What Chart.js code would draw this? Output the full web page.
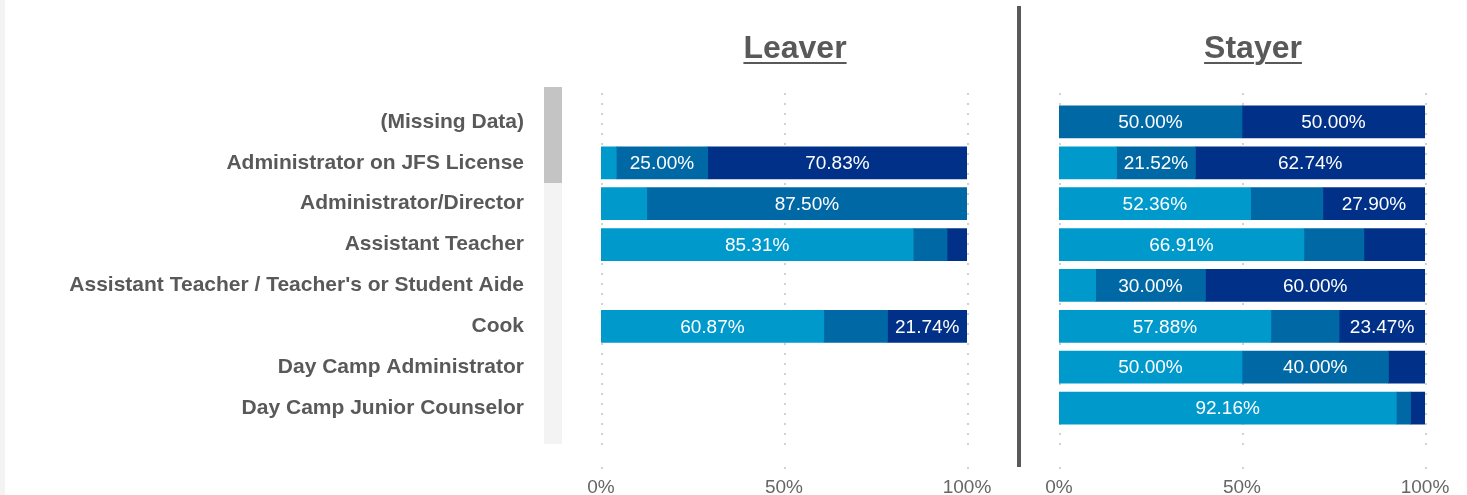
<!DOCTYPE html>
<html>
<head>
<meta charset="utf-8">
<script src="https://cdn.jsdelivr.net/npm/chart.js@4/dist/chart.umd.min.js"></script>
<style>
  html, body { margin: 0; padding: 0; background: #ffffff; }
  body { width: 1467px; height: 495px; position: relative; overflow: hidden; font-family: 'Liberation Sans', Arial, sans-serif; }
  .strip { position: absolute; left: 0; top: 0; width: 5px; height: 495px; background: #f3f3f3; }
  .track { position: absolute; left: 544px; top: 87px; width: 18px; height: 357px; background: #f3f3f3; }
  .thumb { position: absolute; left: 544px; top: 87px; width: 18px; height: 96px; background: #c4c4c4; }
  .divider { position: absolute; left: 1017px; top: 6px; width: 4px; height: 461px; background: #595959; }
  .title { position: absolute; top: 27px; font-weight: bold; font-size: 32px; color: #595959; text-decoration: underline; text-decoration-thickness: 2px; text-underline-offset: 4px; text-align: center; width: 300px; line-height: 40px; }
  #wrapL { position: absolute; left: 0; top: 0; width: 1000px; height: 495px; }
  #wrapR { position: absolute; left: 1030px; top: 0; width: 437px; height: 495px; }
</style>
</head>
<body>
<div class="strip"></div>
<div id="wrapL"><canvas id="cL"></canvas></div>
<div id="wrapR"><canvas id="cR"></canvas></div>
<div class="track"></div>
<div class="thumb"></div>
<div class="divider"></div>
<div class="title" style="left:645px;">Leaver</div>
<div class="title" style="left:1103px;">Stayer</div>
<script>
const categories = [
  "(Missing Data)",
  "Administrator on JFS License",
  "Administrator/Director",
  "Assistant Teacher",
  "Assistant Teacher / Teacher's or Student Aide",
  "Cook",
  "Day Camp Administrator",
  "Day Camp Junior Counselor"
];
const seriesNames = ["Segment 1", "Segment 2", "Segment 3"];
const seriesColors = ["#0099cc", "#0069a5", "#003087"];

// Leaver percentages per category (null = no data)
const leaver1 = [null, 4.17, 12.50, 85.31, null, 60.87, null, null];
const leaver2 = [null, 25.00, 87.50, 9.24, null, 17.39, null, null];
const leaver3 = [null, 70.83, null, 5.45, null, 21.74, null, null];

// Stayer percentages per category
const stayer1 = [null, 15.74, 52.36, 66.91, 10.00, 57.88, 50.00, 92.16];
const stayer2 = [50.00, 21.52, 19.74, 16.40, 30.00, 18.65, 40.00, 3.92];
const stayer3 = [50.00, 62.74, 27.90, 16.69, 60.00, 23.47, 10.00, 3.92];

const xTicks = [0, 50, 100];
const labelThreshold = 20;

const FONT = "'Liberation Sans', Arial, sans-serif";

const gridPlugin = {
  id: 'dotGrid',
  beforeDatasetsDraw(chart) {
    const ctx = chart.ctx;
    const xs = chart.scales.x;
    ctx.save();
    ctx.strokeStyle = '#d2d2d2';
    ctx.lineWidth = 2;
    ctx.setLineDash([2, 8]);
    xTicks.forEach(v => {
      const x = Math.round(xs.getPixelForValue(v)) + 1;
      ctx.beginPath();
      ctx.moveTo(x, 93);
      ctx.lineTo(x, 447);
      ctx.stroke();
      ctx.beginPath();
      ctx.moveTo(x, 467);
      ctx.lineTo(x, 469);
      ctx.stroke();
    });
    ctx.restore();
  }
};

const labelPlugin = {
  id: 'segLabels',
  afterDatasetsDraw(chart) {
    const ctx = chart.ctx;
    ctx.save();
    ctx.fillStyle = '#ffffff';
    ctx.font = '19px ' + FONT;
    ctx.textAlign = 'center';
    ctx.textBaseline = 'middle';
    chart.data.datasets.forEach((ds, di) => {
      const meta = chart.getDatasetMeta(di);
      meta.data.forEach((el, i) => {
        const v = ds.data[i];
        if (v == null || v < labelThreshold) return;
        const p = el.getCenterPoint();
        ctx.fillText(v.toFixed(2) + '%', p.x, p.y + 1);
      });
    });
    ctx.restore();
  }
};

function makeDatasets(a, b, c) {
  return [a, b, c].map((d, i) => ({
    label: seriesNames[i],
    data: d,
    backgroundColor: seriesColors[i],
    borderWidth: 0,
    barThickness: 32
  }));
}

function makeOptions(showY, padding) {
  return {
    indexAxis: 'y',
    responsive: true,
    maintainAspectRatio: false,
    animation: false,
    layout: { padding: padding },
    plugins: { legend: { display: false }, tooltip: { enabled: false }, title: { display: false } },
    scales: {
      x: {
        stacked: true,
        min: 0, max: 100,
        grid: { display: false },
        border: { display: false },
        afterBuildTicks(scale) { scale.ticks = xTicks.map(v => ({ value: v })); },
        afterFit(scale) {
          scale.height = 66.5;
          scale.paddingLeft = 0;
          scale.paddingRight = 0;
        },
        ticks: {
          padding: 40,
          color: '#666666',
          font: { family: FONT, size: 19 },
          callback: v => v + '%'
        }
      },
      y: {
        stacked: true,
        display: showY,
        grid: { display: false },
        border: { display: false },
        afterFit(scale) {
          if (showY) scale.width = 601;
          scale.paddingTop = 0;
          scale.paddingBottom = 0;
        },
        ticks: {
          padding: 69,
          color: '#595959',
          font: { family: FONT, size: 21, weight: 'bold' }
        }
      }
    }
  };
}

new Chart(document.getElementById('cL'), {
  type: 'bar',
  data: { labels: categories, datasets: makeDatasets(leaver1, leaver2, leaver3) },
  options: makeOptions(true, { left: 0, right: 33, top: 101.5, bottom: 0 }),
  plugins: [gridPlugin, labelPlugin]
});

new Chart(document.getElementById('cR'), {
  type: 'bar',
  data: { labels: categories, datasets: makeDatasets(stayer1, stayer2, stayer3) },
  options: makeOptions(false, { left: 29, right: 42, top: 101.5, bottom: 0 }),
  plugins: [gridPlugin, labelPlugin]
});
</script>
</body>
</html>
